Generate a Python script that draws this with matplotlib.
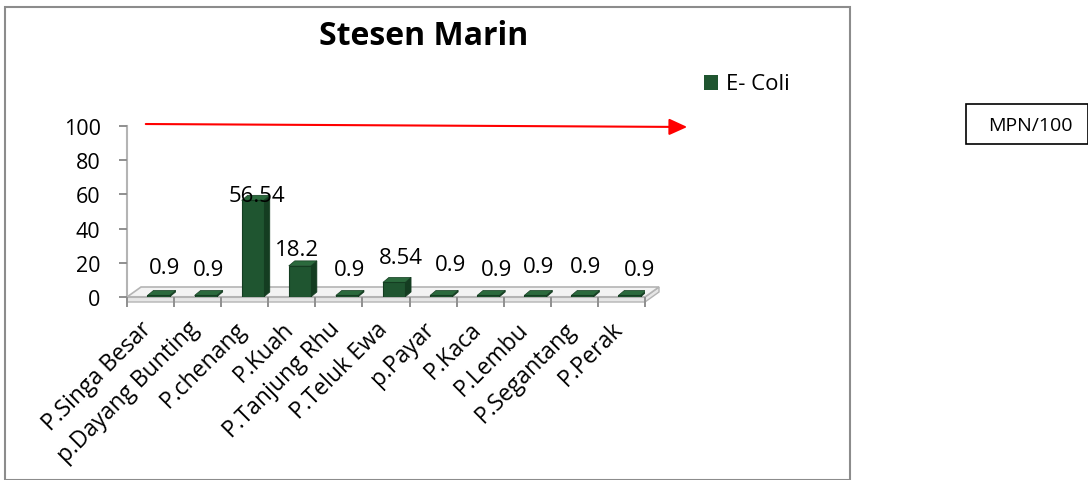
import matplotlib
matplotlib.use("Agg")
import matplotlib.pyplot as plt
from matplotlib.patches import Rectangle, Polygon

categories = ["P.Singa Besar", "p.Dayang Bunting", "P.chenang", "P.Kuah", "P.Tanjung Rhu",
              "P.Teluk Ewa", "p.Payar", "P.Kaca", "P.Lembu", "P.Segantang", "P.Perak"]
ecoli = [0.9, 0.9, 56.54, 18.2, 0.9, 8.54, 0.9, 0.9, 0.9, 0.9, 0.9]
yticks = [0, 20, 40, 60, 80, 100]
series_name = "E- Coli"
unit_label = "MPN/100"
title = "Stesen Marin"

# label placement offsets (pixels) – styling only
label_dx = [14, 11, 12, 5, 11, 15, 17, 16, 11, 11, 18]
label_dy = [28, 26, 5, 16, 26, 25, 31, 26, 29, 29, 26]

plt.rcParams['font.family'] = ['Open Sans', 'DejaVu Sans']

W, H = 1088, 481
fig = plt.figure(figsize=(W / 100, H / 100), dpi=100)

def fx(px):
    return px / W

def fy(py):
    return 1 - py / H

GREEN = "#1f5530"
GREEN_TOP = "#2b6a3d"
GREEN_SIDE = "#143d21"
GREY = "#b4b4b4"
TICKGREY = "#8f8f8f"

# outer chart frame
fig.patches.append(Rectangle((fx(5), fy(481)), fx(850) - fx(5), fy(8) - fy(481),
                             transform=fig.transFigure, fill=False,
                             edgecolor="#8c8c8c", linewidth=1.5))

ax = fig.add_axes([fx(127), fy(298), fx(645) - fx(127), fy(127) - fy(298)])
n = len(categories)
x = list(range(n))
ax.set_xlim(-0.5, n - 0.5)
ax.set_ylim(0, 100)
ax.patch.set_alpha(0)

inv = ax.transData.inverted()
def px2data(dxp, dyp):
    (a0, b0), (a1, b1) = inv.transform([(0, 0), (dxp, dyp)])
    return a1 - a0, b1 - b0

# 3D floor
fdx, fdy = px2data(14, 10)
_, thick = px2data(0, 5)
floor = Polygon([(-0.5, 0), (n - 0.5, 0), (n - 0.5 + fdx, fdy), (-0.5 + fdx, fdy)],
                closed=True, facecolor="#f3f3f3", edgecolor=GREY, linewidth=1.2,
                zorder=1, clip_on=False)
ax.add_patch(floor)
band = Polygon([(-0.5, 0), (n - 0.5, 0), (n - 0.5 + fdx, fdy), (n - 0.5 + fdx, fdy - thick),
                (n - 0.5, -thick), (-0.5, -thick)],
               closed=True, facecolor="#e6e6e6", edgecolor=GREY, linewidth=1.0,
               zorder=0.5, clip_on=False)
ax.add_patch(band)

# 3D bars
bw = 0.47
shift, _ = px2data(8, 0)
ddx, ddy = px2data(6, 5)
for xi, v in zip(x, ecoli):
    x0 = xi + shift - bw / 2
    x1 = xi + shift + bw / 2
    ax.add_patch(Polygon([(x1, 0), (x1 + ddx, ddy), (x1 + ddx, v + ddy), (x1, v)],
                         closed=True, facecolor=GREEN_SIDE, edgecolor=GREEN_SIDE,
                         linewidth=0.5, zorder=3))
    ax.add_patch(Polygon([(x0, v), (x1, v), (x1 + ddx, v + ddy), (x0 + ddx, v + ddy)],
                         closed=True, facecolor=GREEN_TOP, edgecolor=GREEN_SIDE,
                         linewidth=0.5, zorder=4))
ax.bar([xi + shift for xi in x], ecoli, width=bw, color=GREEN, edgecolor=GREEN_SIDE,
       linewidth=0.8, zorder=4)

# axes styling
ax.set_axisbelow(False)
ax.set_yticks(yticks)
ax.set_yticklabels([str(v) for v in yticks], fontsize=15.5)
ax.set_xticks([i - 0.5 for i in range(n + 1)])
ax.set_xticklabels([""] * (n + 1))
for s in ["top", "right"]:
    ax.spines[s].set_visible(False)
for s in ["left", "bottom"]:
    ax.spines[s].set_color(GREY)
    ax.spines[s].set_linewidth(1.5)
ax.tick_params(axis="both", which="major", color=TICKGREY, length=6, width=1.4,
               direction="out")
ax.tick_params(axis="x", length=7.5)
ax.tick_params(axis="y", pad=13)

# category labels
xaxis_trans = ax.get_xaxis_transform()
for xi, name in zip(x, categories):
    ax.annotate(name, (xi, 0), xycoords=xaxis_trans, xytext=(-2, -28),
                textcoords="offset pixels", rotation=45, ha="right", va="center",
                rotation_mode="anchor", fontsize=16.5, annotation_clip=False)

for xi, v, dx, dy in zip(x, ecoli, label_dx, label_dy):
    ax.annotate(f"{v:g}", (xi, v), xytext=(dx, dy), textcoords="offset pixels",
                ha="center", va="center", fontsize=16, zorder=6)

# red arrow along top
ax.annotate("", xy=(fx(690), fy(128)), xytext=(fx(143), fy(125)),
            xycoords="figure fraction", textcoords="figure fraction",
            arrowprops=dict(arrowstyle="-|>,head_length=1.1,head_width=0.5",
                            color="#ff0000", lw=1.5), annotation_clip=False)

fig.text(fx(424), fy(37), title, ha="center", va="center", fontsize=23, fontweight="bold")

# legend
fig.patches.append(Rectangle((fx(704), fy(91)), fx(718) - fx(704), fy(76) - fy(91),
                             transform=fig.transFigure, facecolor=GREEN, edgecolor="none"))
fig.text(fx(726), fy(84), series_name, ha="left", va="center", fontsize=16)

# unit box
fig.patches.append(Rectangle((fx(966), fy(145)), fx(1088) - fx(966), fy(105) - fy(145),
                             transform=fig.transFigure, fill=False, edgecolor="black", linewidth=1.2))
fig.text(fx(1030), fy(126), unit_label, ha="center", va="center", fontsize=14)

fig.savefig("out.png", dpi=100)
